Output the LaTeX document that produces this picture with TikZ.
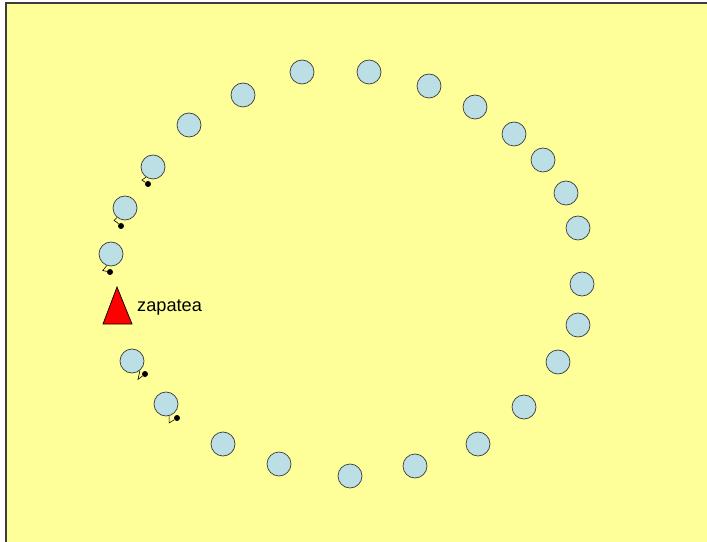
\documentclass[tikz,border=0pt]{standalone}
\usepackage{fontspec}
\setmainfont{Liberation Sans}
\usetikzlibrary{positioning, calc}

\definecolor{floor}{RGB}{255,255,153}
\definecolor{dancer}{RGB}{187,223,229}
\definecolor{rim}{RGB}{60,60,60}

\begin{document}
\begin{tikzpicture}[x=0.03cm, y=-0.03cm, thin, font=\fontsize{15.5}{18}\selectfont]

    \tikzset{
        dancer/.style={circle, draw=rim, fill=dancer, line width=0.6pt, minimum size=0.72cm, inner sep=0pt},
        footdot/.style={circle, fill=black, minimum size=0.18cm, inner sep=0pt},
        footline/.style={draw=black, line width=0.5pt}
    }

    % ==========================================
    % Floor
    % ==========================================
    \useasboundingbox (0,0) rectangle (707,542);
    \fill[floor] (6,3) rectangle (707,542);
    \draw[rim, line width=0.9pt] (6,542) -- (6,3) -- (707,3);

    % ==========================================
    % Dancers in the ring
    % ==========================================
    \node[dancer] (d1)  at (302,72)  {};
    \node[dancer] (d2)  at (369,72)  {};
    \node[dancer] (d3)  at (429,86)  {};
    \node[dancer] (d4)  at (475,107) {};
    \node[dancer] (d5)  at (514,134) {};
    \node[dancer] (d6)  at (543,160) {};
    \node[dancer] (d7)  at (566,193) {};
    \node[dancer] (d8)  at (578,228) {};
    \node[dancer] (d9)  at (582,284) {};
    \node[dancer] (d10) at (578,325) {};
    \node[dancer] (d11) at (558,362) {};
    \node[dancer] (d12) at (524,407) {};
    \node[dancer] (d13) at (478,444) {};
    \node[dancer] (d14) at (415,466) {};
    \node[dancer] (d15) at (350,476) {};
    \node[dancer] (d16) at (279,464) {};
    \node[dancer] (d17) at (223,444) {};
    \node[dancer] (d18) at (166,404) {};
    \node[dancer] (d19) at (132,361) {};
    \node[dancer] (d20) at (111,254) {};
    \node[dancer] (d21) at (125,208) {};
    \node[dancer] (d22) at (153,167) {};
    \node[dancer] (d23) at (189,125) {};
    \node[dancer] (d24) at (243,95)  {};

    % Feet of the dancers who stamp
    \node[footdot] (f22) at (148,184) {};
    \node[footdot] (f21) at (121,226) {};
    \node[footdot] (f20) at (110,272) {};
    \node[footdot] (f19) at (145,374) {};
    \node[footdot] (f18) at (177,418) {};

    \draw[footline] (d22.-125) -- ++(-4,3) -- ++(3,2) -- (f22);
    \draw[footline] (d21.-130) -- ++(-3,3) -- ++(3,2) -- (f21);
    \draw[footline] (d20.-110) -- ++(-4,5) -- (f20);
    \draw[footline] (d19.-50) -- ++(-2,9) -- (f19);
    \draw[footline] (d18.-75) -- ++(0,7) -- (f18);

    % ==========================================
    % Lead dancer
    % ==========================================
    \coordinate (tip) at (117,287);
    \draw[black, fill=red, line width=0.6pt] (tip) -- (132,324) -- (103,324) -- cycle;
    \node[anchor=base west, inner sep=0pt] (lead) at (137,311) {zapatea};

\end{tikzpicture}
\end{document}
